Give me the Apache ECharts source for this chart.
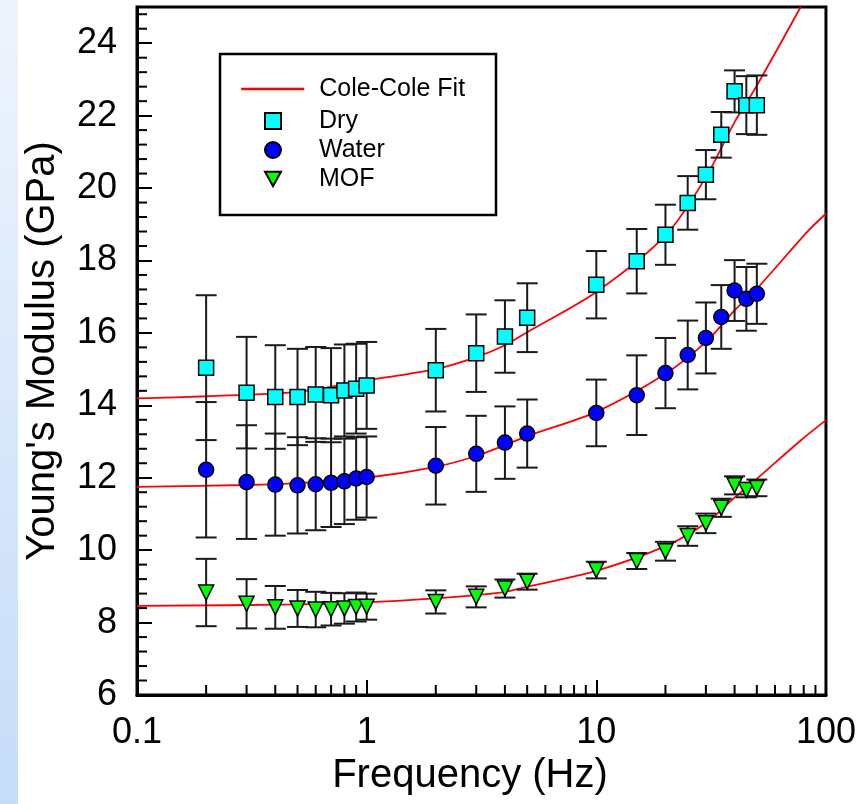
<!DOCTYPE html>
<html>
<head>
<meta charset="utf-8">
<script src="https://cdn.jsdelivr.net/npm/echarts@6/dist/echarts.min.js"></script>
<style>
  html, body { margin: 0; padding: 0; background: #fff; }
  #strip { position: absolute; left: 0; top: 0; width: 18px; height: 804px;
    background: linear-gradient(to bottom, #eef4fd, #c6dcf8); }
  #chart { position: absolute; left: 0; top: 0; width: 859px; height: 804px; }
</style>
</head>
<body>
<div id="strip"></div>
<div id="chart"></div>
<script>
// measured points (Hz)
const freq = [0.2, 0.3, 0.4, 0.5, 0.6, 0.7, 0.8, 0.9, 1, 2, 3, 4, 5, 10, 15, 20, 25, 30, 35, 40, 45, 50]

const dry = [15.04, 14.35, 14.23, 14.23, 14.30, 14.28, 14.41, 14.46, 14.55, 14.97, 15.44, 15.90, 16.42, 17.33, 17.98, 18.71, 19.59, 20.37, 21.47, 22.67, 22.29, 22.29]
const dryErr = [2.0, 1.54, 1.43, 1.33, 1.31, 1.30, 1.27, 1.24, 1.20, 1.14, 1.07, 1.0, 0.95, 0.93, 0.89, 0.83, 0.74, 0.68, 0.63, 0.58, 0.80, 0.82]

const water = [12.22, 11.88, 11.81, 11.79, 11.82, 11.86, 11.90, 11.98, 12.02, 12.33, 12.66, 12.97, 13.22, 13.79, 14.28, 14.89, 15.39, 15.86, 16.44, 17.17, 16.94, 17.08]
const waterErr = [1.87, 1.57, 1.41, 1.33, 1.27, 1.22, 1.18, 1.14, 1.12, 1.07, 1.05, 1.0, 0.94, 0.92, 1.1, 0.97, 0.95, 0.98, 0.88, 0.84, 0.88, 0.83]

const mof = [8.83, 8.52, 8.42, 8.39, 8.36, 8.37, 8.39, 8.43, 8.44, 8.57, 8.71, 8.94, 9.13, 9.45, 9.70, 9.97, 10.39, 10.74, 11.17, 11.79, 11.66, 11.72]
const mofErr = [0.93, 0.68, 0.59, 0.51, 0.49, 0.45, 0.42, 0.40, 0.36, 0.32, 0.29, 0.25, 0.22, 0.23, 0.22, 0.26, 0.27, 0.27, 0.25, 0.25, 0.20, 0.23]

// Cole-Cole fit curves
const dryFitFreq = [0.1, 0.2, 0.5, 1, 2, 3, 4, 5, 10, 20, 30, 40, 50, 77.6]
const dryFit = [14.19, 14.25, 14.37, 14.69, 15.0, 15.33, 15.66, 16.02, 17.13, 18.69, 20.30, 21.82, 22.83, 25.0]
const waterFitFreq = [0.1, 0.3, 0.5, 1, 2, 3, 4, 5, 10, 20, 30, 40, 50, 84, 100]
const waterFit = [11.75, 11.80, 11.85, 12.0, 12.30, 12.60, 12.90, 13.15, 13.82, 14.87, 15.75, 16.62, 17.22, 18.83, 19.29]
const mofFitFreq = [0.1, 0.5, 1, 2, 3, 4, 5, 10, 20, 30, 40, 50, 77.6, 100]
const mofFit = [8.46, 8.50, 8.56, 8.67, 8.76, 8.85, 8.99, 9.43, 10.11, 10.75, 11.45, 11.97, 13.03, 13.59]

const xTickLabels = { 0.1: '0.1', 1: '1', 10: '10', 100: '100' }
const xMinorTicks = [0.2, 0.3, 0.4, 0.5, 0.6, 0.7, 0.8, 0.9, 2, 3, 4, 5, 6, 7, 8, 9, 20, 30, 40, 50, 60, 70, 80, 90]
const yMinorTicks = []
for (let i = 0; i < 48; i++) if (i % 5 !== 0) yMinorTicks.push(+(6 + 0.4 * i).toFixed(1))

const FONT = '"Liberation Sans", Arial, sans-serif'
const pairs = (xs, ys) => xs.map((x, i) => [x, ys[i]])
const bars = (ys, es) => freq.map((f, i) => [f, ys[i] - es[i], ys[i] + es[i]])

const errSeries = (ys, es) => ({
  type: 'custom',
  z: 3,
  silent: true,
  data: bars(ys, es),
  renderItem: (params, api) => {
    const x = api.value(0)
    const top = api.coord([x, api.value(2)])
    const bot = api.coord([x, api.value(1)])
    const w = 10.5
    const st = { stroke: '#1a1a1a', lineWidth: 2 }
    return {
      type: 'group',
      children: [
        { type: 'line', shape: { x1: top[0], y1: top[1], x2: bot[0], y2: bot[1] }, style: st },
        { type: 'line', shape: { x1: top[0] - w, y1: top[1], x2: top[0] + w, y2: top[1] }, style: st },
        { type: 'line', shape: { x1: bot[0] - w, y1: bot[1], x2: bot[0] + w, y2: bot[1] }, style: st }
      ]
    }
  }
})

const fitSeries = (xs, ys) => ({
  name: 'Cole-Cole Fit',
  type: 'line',
  z: 2,
  smooth: 0.3,
  symbol: 'none',
  silent: true,
  lineStyle: { color: '#ff0000', width: 1.8 },
  itemStyle: { color: '#ff0000' },
  data: pairs(xs, ys)
})

const markSeries = (name, ys, symbol, color) => ({
  name,
  type: 'scatter',
  z: 4,
  symbol,
  symbolSize: 15,
  itemStyle: { color, borderColor: '#000', borderWidth: 1.5, opacity: 1 },
  data: pairs(freq, ys)
})

const tickSeries = (data, horizontal) => ({
  type: 'custom',
  z: 5,
  silent: true,
  data,
  renderItem: (params, api) => {
    const p = api.coord([api.value(0), api.value(1)])
    const shape = horizontal
      ? { x1: p[0], y1: p[1], x2: p[0] + 10, y2: p[1] }
      : { x1: p[0], y1: p[1], x2: p[0], y2: p[1] - 10 }
    return { type: 'line', shape, style: { stroke: '#000', lineWidth: 2 } }
  }
})

const TRI = 'path://M0,0 L10,0 L5,9 Z'

const option = {
  animation: false,
  textStyle: { fontFamily: FONT },
  grid: {
    left: 137, right: 33, top: 7, bottom: 109,
    show: true, borderColor: '#000', borderWidth: 3, backgroundColor: 'transparent'
  },
  graphic: [{
    type: 'rect', z: 1,
    shape: { x: 220, y: 54, width: 276, height: 161 },
    style: { fill: '#fff', stroke: '#000', lineWidth: 2.5 }
  }],
  legend: [
    {
      data: ['Cole-Cole Fit'],
      left: 240, top: 75, padding: 0,
      itemWidth: 63, itemHeight: 14,
      itemStyle: { opacity: 0 },
      lineStyle: { width: 2.5 },
      textStyle: { fontSize: 25, color: '#000', fontFamily: FONT, lineHeight: 28, padding: [0, 0, 0, 10] }
    },
    {
      data: ['Dry', 'Water', 'MOF'],
      orient: 'vertical',
      left: 264, top: 106.5, padding: 0, itemGap: 0,
      itemWidth: 16, itemHeight: 16,
      textStyle: { fontSize: 25, color: '#000', fontFamily: FONT, lineHeight: 29, padding: [0, 0, 0, 33] }
    }
  ],
  xAxis: {
    type: 'log', logBase: 10, min: 0.1, max: 100,
    name: 'Frequency (Hz)', nameLocation: 'middle', nameGap: 60,
    nameTextStyle: { fontSize: 40, color: '#000', fontFamily: FONT, padding: [0, 23, 0, 0] },
    axisLine: { lineStyle: { color: '#000', width: 3 } },
    axisTick: { inside: true, length: 15, lineStyle: { color: '#000', width: 2 } },
    axisLabel: { fontSize: 36, color: '#000', fontFamily: FONT, margin: 20,
      formatter: v => xTickLabels[v] ?? xTickLabels[+(+v).toPrecision(3)] ?? '' },
    splitLine: { show: false },
    minorTick: { show: false }
  },
  yAxis: {
    type: 'value', min: 6, max: 25, interval: 2,
    name: "Young's Modulus (GPa)", nameLocation: 'middle', nameGap: 74,
    nameTextStyle: { fontSize: 40, color: '#000', fontFamily: FONT },
    axisLine: { show: true, lineStyle: { color: '#000', width: 3 } },
    axisTick: { inside: true, length: 15, lineStyle: { color: '#000', width: 2 } },
    axisLabel: { fontSize: 36, color: '#000', fontFamily: FONT, margin: 20,
      formatter: v => (v > 24.5 ? '' : String(v)) },
    splitLine: { show: false }
  },
  series: [
    fitSeries(dryFitFreq, dryFit),
    fitSeries(waterFitFreq, waterFit),
    fitSeries(mofFitFreq, mofFit),
    errSeries(dry, dryErr),
    errSeries(water, waterErr),
    errSeries(mof, mofErr),
    markSeries('Dry', dry, 'rect', '#00ffff'),
    markSeries('Water', water, 'circle', '#0000ff'),
    markSeries('MOF', mof, TRI, '#00ff00'),
    tickSeries(xMinorTicks.map(v => [v, 6]), false),
    tickSeries(yMinorTicks.map(v => [0.1, v]), true)
  ]
}

const chart = echarts.init(document.getElementById('chart'))
chart.setOption(option)
</script>
</body>
</html>
